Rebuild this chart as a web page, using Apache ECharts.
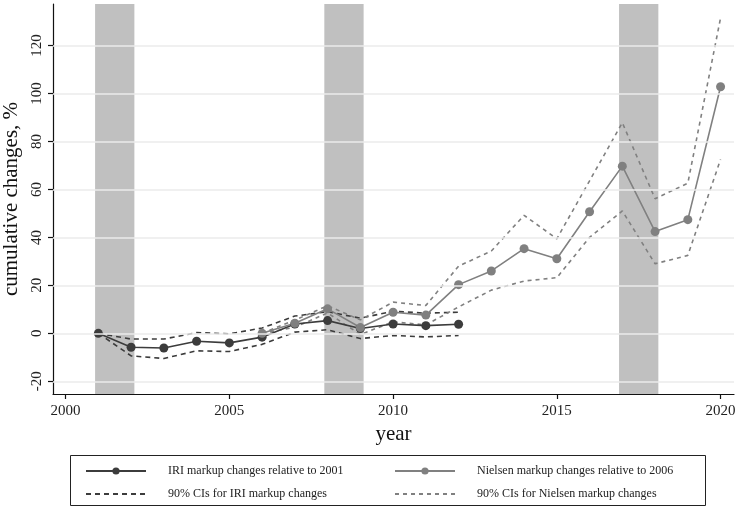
<!DOCTYPE html>
<html>
<head>
<meta charset="utf-8">
<script src="https://cdn.jsdelivr.net/npm/echarts@6/dist/echarts.min.js"></script>
<style>
  html, body { margin: 0; padding: 0; background: #fff; }
  #chart { width: 737px; height: 518px; }
</style>
</head>
<body>
<div id="chart"></div>
<script>
// IRI markup changes relative to 2001, with 90% confidence bounds
var iriYears = [2001, 2002, 2003, 2004, 2005, 2006, 2007, 2008, 2009, 2010, 2011, 2012];
var iriChange = [0, -5.8, -6.1, -3.3, -4.0, -1.6, 3.9, 5.3, 2.0, 3.9, 3.2, 3.8];
var iriUpper  = [0, -2.4, -2.4, 0.3, -0.2, 2.2, 7.2, 9.0, 6.3, 9.2, 8.4, 8.8];
var iriLower  = [0, -9.4, -10.5, -7.3, -7.6, -4.6, 0.5, 1.5, -2.2, -0.9, -1.5, -0.9];

// Nielsen markup changes relative to 2006, with 90% confidence bounds
var nielsenYears = [2006, 2007, 2008, 2009, 2010, 2011, 2012, 2013, 2014, 2015, 2016, 2017, 2018, 2019, 2020];
var nielsenChange = [0, 4.2, 10.2, 2.4, 8.8, 7.6, 20.3, 26.0, 35.3, 31.1, 50.7, 69.7, 42.4, 47.4, 102.8];
var nielsenUpper  = [0, 5.5, 11.5, 5.6, 13.0, 11.6, 28.0, 34.3, 49.2, 39.4, 63.6, 87.8, 56.1, 62.6, 131.5];
var nielsenLower  = [0, 2.5, 8.5, -0.5, 4.8, 3.5, 11.0, 18.0, 21.8, 23.2, 40.0, 51.0, 29.0, 32.5, 72.5];

// Recession periods (shaded)
var recessionStart = [2000.9, 2007.9, 2016.9];
var recessionEnd   = [2002.1, 2009.1, 2018.1];

// Axis ticks
var xTicks = [2000, 2005, 2010, 2015, 2020];
var yTicks = [-20, 0, 20, 40, 60, 80, 100, 120];

var legendNames = [
  'IRI markup changes relative to 2001',
  'Nielsen markup changes relative to 2006',
  '90% CIs for IRI markup changes',
  '90% CIs for Nielsen markup changes'
];

function pairs(xs, ys) {
  return xs.map(function (x, i) { return [x, ys[i]]; });
}

var FONT = '"Liberation Serif", "DejaVu Serif", serif';
var DARK = '#3c3c3c';
var LIGHT = '#808080';

var chart = echarts.init(document.getElementById('chart'), null, { renderer: 'canvas' });

function legendAt(name, left, top, pad, hideSymbol) {
  var lg = {
    data: [name],
    left: left,
    top: top,
    orient: 'horizontal',
    itemWidth: 60,
    itemHeight: 9,
    selectedMode: false,
    padding: 0,
    textStyle: { fontFamily: FONT, fontSize: 12, color: '#222', padding: [0, 0, 0, pad] }
  };
  if (hideSymbol) {
    lg.itemStyle = { color: 'rgba(0,0,0,0)', borderWidth: 0, opacity: 0 };
  }
  return lg;
}

var option = {
  animation: false,
  backgroundColor: '#fff',
  grid: { left: 53, right: 3, top: 4, bottom: 124, containLabel: false, outerBoundsMode: 'none' },
  xAxis: {
    type: 'value',
    min: 1999.615,
    max: 2020.41,
    name: 'year',
    nameLocation: 'middle',
    nameGap: 30,
    nameTextStyle: { fontFamily: FONT, fontSize: 21, color: '#111' },
    axisLine: { show: true, onZero: false, lineStyle: { color: '#111', width: 1.2 } },
    axisTick: { show: true, length: 5, lineStyle: { color: '#111', width: 1.2 }, customValues: xTicks },
    axisLabel: {
      fontFamily: FONT, fontSize: 15, color: '#222', margin: 10, customValues: xTicks,
      formatter: function (v) { return String(v); }
    },
    splitLine: { show: false }
  },
  yAxis: {
    type: 'value',
    min: -25.3,
    max: 137.3,
    name: 'cumulative changes, %',
    nameLocation: 'middle',
    nameRotate: 90,
    nameGap: 30,
    nameTextStyle: { fontFamily: FONT, fontSize: 21, color: '#111' },
    axisLine: { show: true, onZero: false, lineStyle: { color: '#111', width: 1.2 } },
    axisTick: { show: true, length: 5, lineStyle: { color: '#111', width: 1.2 }, customValues: yTicks },
    axisLabel: {
      fontFamily: FONT, fontSize: 15, color: '#222', rotate: 90, margin: 8, customValues: yTicks,
      formatter: function (v) { return String(v); }
    },
    splitLine: { show: false }
  },
  legend: [
    legendAt(legendNames[0], 85, 465, 17, false),
    legendAt(legendNames[1], 394, 465, 17, false),
    legendAt(legendNames[2], 85, 488, 17, true),
    legendAt(legendNames[3], 394, 488, 17, true)
  ],
  graphic: [{
    type: 'rect',
    shape: { x: 70.5, y: 455.5, width: 635, height: 50 },
    style: { fill: null, stroke: '#222', lineWidth: 1 },
    silent: true
  }],
  series: [
    {
      name: 'gridlines',
      type: 'line',
      data: [],
      z: 1,
      silent: true,
      markLine: {
        silent: true,
        symbol: 'none',
        label: { show: false },
        lineStyle: { color: '#ebebeb', width: 1.5, type: 'solid' },
        data: yTicks.map(function (v) { return { yAxis: v }; })
      }
    },
    {
      name: 'recessions',
      type: 'line',
      data: [],
      z: 2,
      silent: true,
      markArea: {
        silent: true,
        itemStyle: { color: '#c0c0c0', opacity: 1 },
        data: recessionStart.map(function (s, i) { return [{ xAxis: s }, { xAxis: recessionEnd[i] }]; })
      }
    },
    {
      name: legendNames[2],
      type: 'line',
      z: 3,
      data: pairs(iriYears, iriUpper),
      symbol: 'none',
      lineStyle: { color: DARK, width: 1.6, type: [5, 4] },
      itemStyle: { color: DARK }
    },
    {
      name: legendNames[2],
      type: 'line',
      z: 3,
      data: pairs(iriYears, iriLower),
      symbol: 'none',
      lineStyle: { color: DARK, width: 1.6, type: [5, 4] },
      itemStyle: { color: DARK }
    },
    {
      name: legendNames[3],
      type: 'line',
      z: 3,
      data: pairs(nielsenYears, nielsenUpper),
      symbol: 'none',
      lineStyle: { color: LIGHT, width: 1.6, type: [4, 4] },
      itemStyle: { color: LIGHT }
    },
    {
      name: legendNames[3],
      type: 'line',
      z: 3,
      data: pairs(nielsenYears, nielsenLower),
      symbol: 'none',
      lineStyle: { color: LIGHT, width: 1.6, type: [4, 4] },
      itemStyle: { color: LIGHT }
    },
    {
      name: legendNames[0],
      type: 'line',
      z: 4,
      data: pairs(iriYears, iriChange),
      symbol: 'circle',
      symbolSize: 9,
      lineStyle: { color: DARK, width: 1.6 },
      itemStyle: { color: DARK }
    },
    {
      name: legendNames[1],
      type: 'line',
      z: 4,
      data: pairs(nielsenYears, nielsenChange),
      symbol: 'circle',
      symbolSize: 9,
      lineStyle: { color: LIGHT, width: 1.6 },
      itemStyle: { color: LIGHT }
    }
  ]
};

chart.setOption(option);
</script>
</body>
</html>
